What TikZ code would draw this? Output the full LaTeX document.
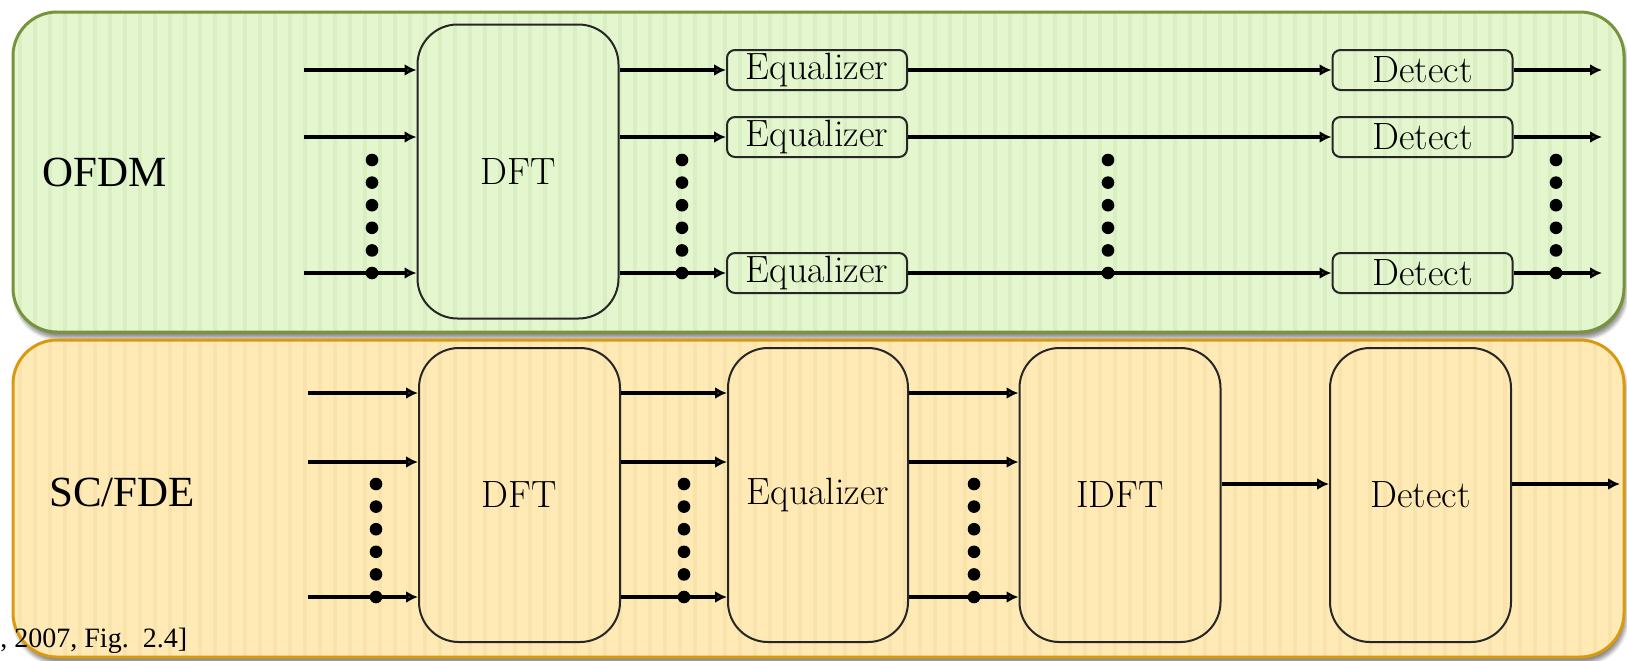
\documentclass[tikz,border=0pt]{standalone}
\usepackage{fontspec}
\newfontfamily\timesfont{Liberation Serif}
\usetikzlibrary{arrows.meta,positioning,shadows.blur}

\definecolor{ofdmfill}{HTML}{E3F6CE}
\definecolor{ofdmstripe}{HTML}{D9EEC3}
\definecolor{ofdmline}{HTML}{77933C}
\definecolor{scfill}{HTML}{FFEAB6}
\definecolor{scstripe}{HTML}{F9E3AC}
\definecolor{scline}{HTML}{D99A12}

\newcommand{\blockfont}{\fontsize{19}{22}\selectfont}

\tikzset{
  panel/.style={rounded corners=22pt,
    blur shadow={shadow xshift=1pt, shadow yshift=-3pt, shadow opacity=45, shadow blur steps=6}},
  bigblock/.style={draw=black!85, line width=1pt, rounded corners=20pt,
    minimum width=100.5pt, minimum height=147pt, inner sep=0pt, font=\blockfont},
  smallblock/.style={draw=black!85, line width=1pt, rounded corners=4pt,
    minimum width=90pt, minimum height=20pt, inner sep=0pt, font=\blockfont},
  sig/.style={line width=1.8pt, -{Latex[length=6pt,width=6pt]}},
  dot/.style={circle, fill=black, inner sep=0pt, minimum size=6.3pt},
  systemlabel/.style={anchor=west, inner sep=0pt, font=\timesfont\fontsize{21.5}{24}\selectfont},
}

\begin{document}
\begin{tikzpicture}[x=0.5pt, y=-0.5pt]
    \useasboundingbox (0,0) rectangle (1627,660);

    % OFDM panel
    \fill[panel, ofdmfill] (13,12) rectangle (1624,332);
    \begin{scope}
        \clip[rounded corners=22pt] (13,12) rectangle (1624,332);
        \foreach \x in {20,35,...,1620}
            \draw[ofdmstripe, line width=2pt] (\x,12) -- (\x,332);
    \end{scope}
    \draw[ofdmline, line width=1.5pt, rounded corners=22pt] (13,12) rectangle (1624,332);

    % SC/FDE panel
    \fill[panel, scfill] (13,340) rectangle (1624,657);
    \begin{scope}
        \clip[rounded corners=22pt] (13,340) rectangle (1624,657);
        \foreach \x in {20,35,...,1620}
            \draw[scstripe, line width=2pt] (\x,340) -- (\x,657);
    \end{scope}
    \draw[scline, line width=1.5pt, rounded corners=22pt] (13,340) rectangle (1624,657);

    % OFDM: one equalizer and one detector per subcarrier
    \node[systemlabel] (ofdm) at (42,172) {OFDM};
    \node[bigblock] (dftA) at (518,171.5) {DFT};
    \foreach \r/\y in {1/70,2/137,3/273} {
        \coordinate (inA\r) at (304,\y);
        \node[smallblock] (eqA\r) at (817,\y) {Equalizer};
        \node[smallblock] (detA\r) at (1422.5,\y) {Detect};
        \coordinate (outA\r) at (1602,\y);
        \draw[sig] (inA\r) -- (inA\r -| dftA.west);
        \draw[sig] (dftA.east |- eqA\r) -- (eqA\r);
        \draw[sig] (eqA\r) -- (detA\r);
        \draw[sig] (detA\r) -- (outA\r);
    }
    \foreach \c/\x in {a/372,b/682,c/1108,d/1556} {
        \foreach \k in {0,...,4}
            \node[dot] (dotA\c\k) at (\x,160+22.6*\k) {};
        \node[dot] (dotA\c5) at (\x,273) {};
    }

    % SC/FDE: back to time domain before detection
    \node[systemlabel] (scfde) at (49,492) {SC/FDE};
    \node[bigblock] (dftB) at (519.5,495) {DFT};
    \node[bigblock, minimum width=90pt] (eqB) at (818,495) {Equalizer};
    \node[bigblock] (idftB) at (1120,495) {IDFT};
    \node[bigblock, minimum width=90.5pt] (detB) at (1420.5,495) {Detect};
    \foreach \r/\y in {1/393,2/462,3/597} {
        \coordinate (inB\r) at (308,\y);
        \draw[sig] (inB\r) -- (inB\r -| dftB.west);
        \draw[sig] (dftB.east |- inB\r) -- (eqB.west |- inB\r);
        \draw[sig] (eqB.east |- inB\r) -- (idftB.west |- inB\r);
    }
    \coordinate (outB) at (1620,484);
    \draw[sig] (idftB.east |- outB) -- (detB.west |- outB);
    \draw[sig] (detB.east |- outB) -- (outB);
    \foreach \c/\x in {a/376,b/684,c/974} {
        \foreach \k in {0,...,4}
            \node[dot] (dotB\c\k) at (\x,484+22.6*\k) {};
        \node[dot] (dotB\c5) at (\x,597) {};
    }

    \node[anchor=base west, inner sep=0pt, font=\timesfont\fontsize{14}{16}\selectfont]
        (cite) at (0,647) {, 2007, Fig.\ \ 2.4]};
\end{tikzpicture}
\end{document}
